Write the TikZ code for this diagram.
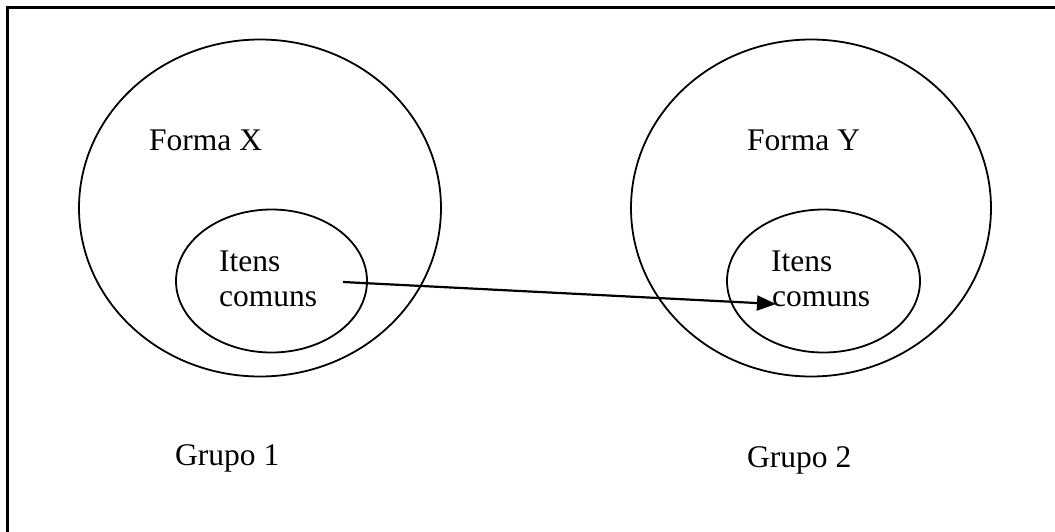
\documentclass[tikz,border=0pt]{standalone}
\usepackage{fontspec}
\setmainfont{Liberation Serif}
\usetikzlibrary{shapes.geometric,arrows.meta}
\begin{document}
\begin{tikzpicture}[x=1pt,y=-1pt,
  oval/.style={draw,ellipse,line width=1.8pt,inner sep=0pt},
  lbl/.style={anchor=base west,inner sep=0pt,font=\fontsize{31.5}{36}\selectfont},
  link/.style={line width=2.2pt,-{Triangle[length=19pt,width=15pt]}}]
\useasboundingbox (0,0) rectangle (1055,531);
\draw[line width=2.8pt] (7.5,545) -- (7.5,7.5) -- (1065,7.5);
\node[oval,minimum width=362pt,minimum height=337pt] (outerX) at (260,208) {};
\node[oval,minimum width=360pt,minimum height=337pt] (outerY) at (811,208) {};
\node[oval,minimum width=191pt,minimum height=143pt] (innerX) at (271.5,281) {};
\node[oval,minimum width=193pt,minimum height=143pt] (innerY) at (823.5,281) {};
\node[lbl] (formaX) at (149,150) {Forma X};
\node[lbl] (formaY) at (747,150) {Forma Y};
\node[lbl] (itensX) at (219,271) {Itens};
\node[lbl] (comunsX) at (219,306.5) {comuns};
\node[lbl] (itensY) at (771,271) {Itens};
\node[lbl] (comunsY) at (772,306.5) {comuns};
\node[lbl] (grupo1) at (175,465) {Grupo 1};
\node[lbl] (grupo2) at (747,467) {Grupo 2};
\coordinate (src) at (343,282);
\coordinate (dst) at (776,304);
\draw[link] (src) -- (dst);
\end{tikzpicture}
\end{document}
